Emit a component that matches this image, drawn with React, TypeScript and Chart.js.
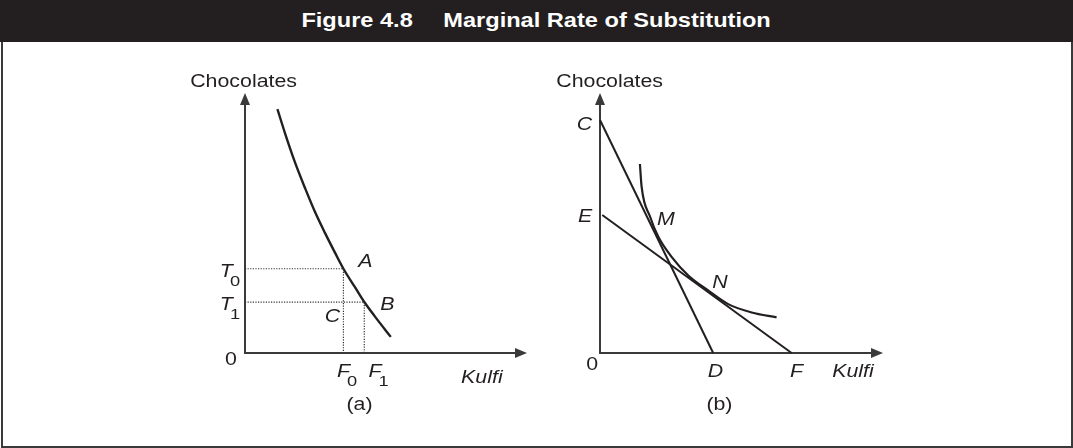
import React, { useEffect, useRef } from "react";
import { Chart, registerables } from "chart.js";

Chart.register(...registerables);

// ---------- Data (in axis units, both axes 0..10) ----------
// Panel (a): indifference curve
const curveAX = [1.15, 1.42, 1.77, 2.13, 2.48, 2.84, 3.19, 3.49, 3.9, 4.23, 4.61, 5.17];
const curveAY = [9.38, 8.45, 7.34, 6.34, 5.43, 4.61, 3.86, 3.24, 2.53, 1.96, 1.4, 0.62];
// Points A and B on the curve (F0,T0) and (F1,T1)
const pointA = { x: 3.49, y: 3.24 };
const pointB = { x: 4.23, y: 1.96 };

// Panel (b): indifference curve and two budget lines
const curveBX = [1.41, 1.47, 1.77, 2.06, 2.53, 3.12, 3.83, 4.53, 5.36, 6.24];
const curveBY = [7.27, 6.4, 5.24, 4.47, 3.7, 2.98, 2.4, 1.88, 1.56, 1.37];
const lineCDX = [0, 4.0];
const lineCDY = [8.96, 0];
const lineEFX = [0.08, 6.77];
const lineEFY = [5.31, 0];

// Text annotations (anchor in axis units)
type Lbl = { text: string; x: number; y: number; italic?: boolean; sub?: string };
const labelsA: Lbl[] = [
  { text: "Chocolates", x: -0.05, y: 10.23 },
  { text: "0", x: -0.5, y: -0.46 },
  { text: "T", sub: "0", x: -0.66, y: 2.92, italic: true },
  { text: "T", sub: "1", x: -0.66, y: 1.65, italic: true },
  { text: "A", x: 4.27, y: 3.31, italic: true },
  { text: "B", x: 5.05, y: 1.65, italic: true },
  { text: "C", x: 3.1, y: 1.19, italic: true },
  { text: "F", sub: "0", x: 3.49, y: -0.92, italic: true },
  { text: "F", sub: "1", x: 4.61, y: -0.92, italic: true },
  { text: "Kulfi", x: 8.4, y: -1.15, italic: true },
  { text: "(a)", x: 4.06, y: -2.19 },
];
const labelsB: Lbl[] = [
  { text: "Chocolates", x: 0.34, y: 10.23 },
  { text: "C", x: -0.55, y: 8.58, italic: true },
  { text: "E", x: -0.53, y: 5.04, italic: true },
  { text: "M", x: 2.33, y: 4.92, italic: true },
  { text: "N", x: 4.24, y: 2.5, italic: true },
  { text: "0", x: -0.28, y: -0.65 },
  { text: "D", x: 4.08, y: -0.92, italic: true },
  { text: "F", x: 6.94, y: -0.92, italic: true },
  { text: "Kulfi", x: 8.94, y: -0.92, italic: true },
  { text: "(b)", x: 4.22, y: -2.19 },
];

const TITLE_LEFT = "Figure 4.8";
const TITLE_RIGHT = "Marginal Rate of Substitution";

// ---------- Styles ----------
const INK = "#231f20";
const AXIS = "#3a3a3a";
const FONT = '"Liberation Sans", Arial, Helvetica, sans-serif';
const SX = 1.22;

const zip = (xs: number[], ys: number[]) => xs.map((x, i) => ({ x, y: ys[i] }));

const axesPlugin = {
  id: "arrowAxes",
  beforeDatasetsDraw(chart: any) {
    const { ctx } = chart;
    const { left, right, top, bottom } = chart.chartArea;
    ctx.save();
    ctx.strokeStyle = AXIS;
    ctx.fillStyle = AXIS;
    ctx.lineWidth = 2;
    ctx.beginPath();
    ctx.moveTo(left, bottom + 1);
    ctx.lineTo(left, top + 8);
    ctx.moveTo(left - 1, bottom);
    ctx.lineTo(right - 8, bottom);
    ctx.stroke();
    ctx.beginPath();
    ctx.moveTo(left, top);
    ctx.lineTo(left - 5, top + 12);
    ctx.lineTo(left + 5, top + 12);
    ctx.closePath();
    ctx.fill();
    ctx.beginPath();
    ctx.moveTo(right, bottom);
    ctx.lineTo(right - 12, bottom - 5);
    ctx.lineTo(right - 12, bottom + 5);
    ctx.closePath();
    ctx.fill();
    ctx.restore();
  },
};

const makeLabelPlugin = (labels: Lbl[]) => ({
  id: "textLabels",
  afterDraw(chart: any) {
    const { ctx } = chart;
    const xs = chart.scales.x;
    const ys = chart.scales.y;
    ctx.save();
    ctx.fillStyle = INK;
    ctx.textBaseline = "alphabetic";
    for (const l of labels) {
      const px = xs.getPixelForValue(l.x);
      const py = ys.getPixelForValue(l.y);
      ctx.font = `${l.italic ? "italic " : ""}17.5px ${FONT}`;
      const w = ctx.measureText(l.text).width * SX;
      ctx.save();
      ctx.translate(px, py);
      ctx.scale(SX, 1);
      ctx.textAlign = "center";
      ctx.fillText(l.text, 0, 0);
      ctx.restore();
      if (l.sub) {
        ctx.font = `15px ${FONT}`;
        ctx.save();
        ctx.translate(px + w / 2 - 3, py + 9);
        ctx.scale(SX, 1);
        ctx.textAlign = "left";
        ctx.fillText(l.sub, 0, 0);
        ctx.restore();
      }
    }
    ctx.restore();
  },
});

const lineDs = (data: any[], opts: any = {}) => ({
  data,
  showLine: true,
  borderColor: INK,
  backgroundColor: INK,
  borderWidth: 2,
  pointRadius: 0,
  pointHoverRadius: 0,
  fill: false,
  clip: false,
  ...opts,
});

const baseOptions = (padding: any) => ({
  responsive: false,
  animation: false as const,
  events: [] as any[],
  layout: { padding },
  scales: {
    x: { type: "linear" as const, min: 0, max: 10, display: false },
    y: { type: "linear" as const, min: 0, max: 10, display: false },
  },
  plugins: { legend: { display: false }, tooltip: { enabled: false } },
});

function PanelA() {
  const ref = useRef<HTMLCanvasElement>(null);
  useEffect(() => {
    if (!ref.current) return;
    const chart = new Chart(ref.current, {
      type: "scatter",
      data: {
        datasets: [
          lineDs(
            [{ x: 0, y: pointA.y }, { x: pointA.x, y: pointA.y }, { x: pointA.x, y: 0 }],
            { borderWidth: 1.2, borderDash: [1.2, 1.4], borderColor: "#333" }
          ),
          lineDs(
            [{ x: 0, y: pointB.y }, { x: pointB.x, y: pointB.y }, { x: pointB.x, y: 0 }],
            { borderWidth: 1.2, borderDash: [1.2, 1.4], borderColor: "#333" }
          ),
          lineDs(zip(curveAX, curveAY), { borderWidth: 2.4, cubicInterpolationMode: "monotone" }),
        ],
      },
      options: baseOptions({ left: 245, right: 9, top: 51, bottom: 93 }) as any,
      plugins: [axesPlugin, makeLabelPlugin(labelsA)],
    });
    return () => chart.destroy();
  }, []);
  return (
    <canvas
      ref={ref}
      width={536}
      height={404}
      style={{ position: "absolute", left: 0, top: 42, width: 536, height: 404 }}
    />
  );
}

function PanelB() {
  const ref = useRef<HTMLCanvasElement>(null);
  useEffect(() => {
    if (!ref.current) return;
    const chart = new Chart(ref.current, {
      type: "scatter",
      data: {
        datasets: [
          lineDs(zip(lineCDX, lineCDY), { borderWidth: 2 }),
          lineDs(zip(lineEFX, lineEFY), { borderWidth: 2 }),
          lineDs(zip(curveBX, curveBY), { borderWidth: 2.2, cubicInterpolationMode: "monotone" }),
        ],
      },
      options: baseOptions({ left: 64, right: 188, top: 51, bottom: 93 }) as any,
      plugins: [axesPlugin, makeLabelPlugin(labelsB)],
    });
    return () => chart.destroy();
  }, []);
  return (
    <canvas
      ref={ref}
      width={535}
      height={404}
      style={{ position: "absolute", left: 536, top: 42, width: 535, height: 404 }}
    />
  );
}

export default function App() {
  useEffect(() => {
    document.body.style.margin = "0";
  }, []);
  return (
    <div
      style={{
        position: "relative",
        width: 1073,
        height: 448,
        overflow: "hidden",
        background: "#fff",
        fontFamily: FONT,
      }}
    >
      <div
        style={{
          position: "absolute",
          left: 1,
          top: 0,
          width: 1072,
          height: 448,
          boxSizing: "border-box",
          borderLeft: `2px solid ${AXIS}`,
          borderRight: `2px solid ${AXIS}`,
          borderBottom: `2px solid ${AXIS}`,
        }}
      />
      <div
        style={{
          position: "absolute",
          left: 0,
          top: 0,
          width: 1073,
          height: 42,
          background: INK,
          color: "#fff",
          textAlign: "center",
          lineHeight: "40px",
          fontSize: "20.5px",
          fontWeight: "bold",
          whiteSpace: "pre",
        }}
      >
        <span style={{ display: "inline-block", transform: "scaleX(1.15)", transformOrigin: "center" }}>
          <span>{TITLE_LEFT}</span>
          <span style={{ display: "inline-block", width: 26.6 }} />
          <span>{TITLE_RIGHT}</span>
        </span>
      </div>
      <PanelA />
      <PanelB />
    </div>
  );
}
